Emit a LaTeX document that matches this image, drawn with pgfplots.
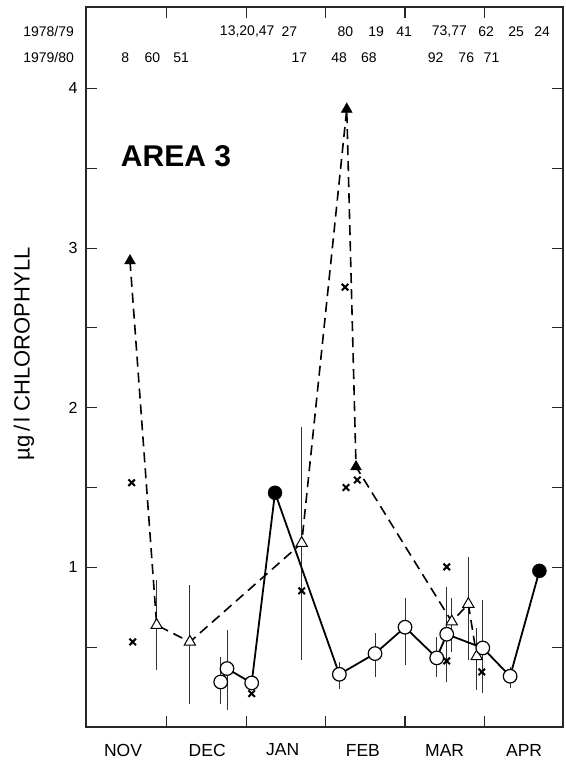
\documentclass[border=0pt]{standalone}
\usepackage{fontspec}
\setmainfont{Liberation Sans}
\usepackage{pgfplots}
\pgfplotsset{compat=1.18}
\usetikzlibrary{plotmarks}
\tikzset{
  mlab/.style={font=\fontsize{17.5}{17.5}\selectfont, yshift=-23pt},
  nlab/.style={font=\fontsize{14}{14}\selectfont},
}

\begin{document}
\begin{tikzpicture}
\begin{axis}[
  at={(0,0)}, anchor=south west,
  scale only axis, width=477pt, height=720pt,
  xmin=-0.016, xmax=5.99, ymin=0, ymax=4.51,
  axis line style={line width=1.1pt, black!85},
  xtick={1,2,3,4,5}, xticklabels={},
  ytick={1,2,3,4}, minor ytick={0.5,1.5,2.5,3.5},
  major tick length=11pt, minor tick length=11pt,
  every tick/.style={line width=1.1pt, black!85},
  tick align=inside,
  yticklabel style={font=\fontsize{16}{16}\selectfont, xshift=-5pt},
  /pgf/number format/assume math mode=true,
  clip=false,
]
% error bars (under everything)
\addplot[draw=none, mark=none, forget plot,
  error bars/.cd, y dir=both, y explicit, error mark=none,
  error bar style={draw=black!80, line width=0.9pt, solid}]
table[x=x, y=y, y error plus=ep, y error minus=em] {
x      y      ep     em
0.874  0.638  0.28   0.28
1.292  0.533  0.355  0.386
2.700  1.152  0.728  0.734
4.589  0.660  0.150  0.190
4.798  0.770  0.296  0.352
4.904  0.443  0.180  0.210
1.680  0.282  0.157  0.135
1.759  0.366  0.240  0.261
3.174  0.330  0.078  0.089
3.623  0.460  0.126  0.147
4.001  0.625  0.182  0.235
4.400  0.433  0.131  0.120
4.526  0.581  0.297  0.299
4.980  0.495  0.299  0.285
5.324  0.318  0.060  0.075
};

% dashed triangle series line
\addplot[black, line width=1.6pt, dash pattern=on 10pt off 6pt, mark=none] table {
0.538 2.920
0.874 0.638
1.292 0.533
2.700 1.152
3.267 3.870
3.384 1.630
4.589 0.660
4.798 0.770
4.904 0.443
};

% solid circle series line
\addplot[black, line width=1.8pt, mark=none] table {
1.680 0.282
1.759 0.366
2.070 0.276
2.364 1.467
3.174 0.330
3.623 0.460
4.001 0.625
4.400 0.433
4.526 0.581
4.980 0.495
5.324 0.318
5.693 0.978
};

% crosses
\addplot[only marks, mark=x, mark size=4.6pt, mark options={line width=2pt, black, solid}] table {
0.559 1.530
0.572 0.533
2.070 0.209
2.700 0.853
3.246 2.755
3.258 1.500
3.400 1.547
4.526 1.003
4.526 0.414
4.967 0.345
};

% open triangles
\addplot[only marks, mark=triangle*, mark size=6.5pt, mark options={fill=white, draw=black, line width=1pt, solid}] table {
0.874 0.638
1.292 0.533
2.700 1.152
4.589 0.660
4.798 0.770
4.904 0.443
};

% filled triangles
\addplot[only marks, mark=triangle*, mark size=6.3pt, mark options={fill=black, draw=black, solid}] table {
0.538 2.920
3.267 3.870
3.384 1.630
};

% open circles
\addplot[only marks, mark=*, mark size=6.8pt, mark options={fill=white, draw=black, line width=1.2pt, solid}] table {
1.680 0.282
1.759 0.366
2.070 0.276
3.174 0.330
3.623 0.460
4.001 0.625
4.400 0.433
4.526 0.581
4.980 0.495
5.324 0.318
};

% filled circles
\addplot[only marks, mark=*, mark size=7pt, mark options={fill=black, draw=black, solid}] table {
2.364 1.467
5.693 0.978
};

% texts
\node[font=\fontsize{30}{30}\selectfont\bfseries] at (axis cs:1.117,3.574) {AREA 3};
\node[font=\fontsize{22}{22}\selectfont, rotate=90] at (axis cs:-0.797,2.337) {µg\,/\,l CHLOROPHYLL};

\node[mlab] at (axis cs:0.45,0) {NOV};
\node[mlab] at (axis cs:1.51,0) {DEC};
\node[mlab] at (axis cs:2.46,0) {JAN};
\node[mlab] at (axis cs:3.47,0) {FEB};
\node[mlab] at (axis cs:4.50,0) {MAR};
\node[mlab] at (axis cs:5.50,0) {APR};

\node[nlab] at (axis cs:-0.487,4.355) {1978/79};
\node[nlab] at (axis cs:-0.487,4.192) {1979/80};

\node[nlab] at (axis cs:2.014,4.355) {13,20,47};
\node[nlab] at (axis cs:2.545,4.355) {27};
\node[nlab] at (axis cs:3.249,4.355) {80};
\node[nlab] at (axis cs:3.636,4.355) {19};
\node[nlab] at (axis cs:3.990,4.355) {41};
\node[nlab] at (axis cs:4.559,4.355) {73,77};
\node[nlab] at (axis cs:5.022,4.355) {62};
\node[nlab] at (axis cs:5.400,4.355) {25};
\node[nlab] at (axis cs:5.727,4.355) {24};

\node[nlab] at (axis cs:0.477,4.192) {8};
\node[nlab] at (axis cs:0.819,4.192) {60};
\node[nlab] at (axis cs:1.181,4.192) {51};
\node[nlab] at (axis cs:2.672,4.192) {17};
\node[nlab] at (axis cs:3.172,4.192) {48};
\node[nlab] at (axis cs:3.545,4.192) {68};
\node[nlab] at (axis cs:4.387,4.192) {92};
\node[nlab] at (axis cs:4.772,4.192) {76};
\node[nlab] at (axis cs:5.090,4.192) {71};
\end{axis}
\pgfresetboundingbox
\path (-86pt,-38pt) rectangle (479pt,727pt);
\end{tikzpicture}
\end{document}
